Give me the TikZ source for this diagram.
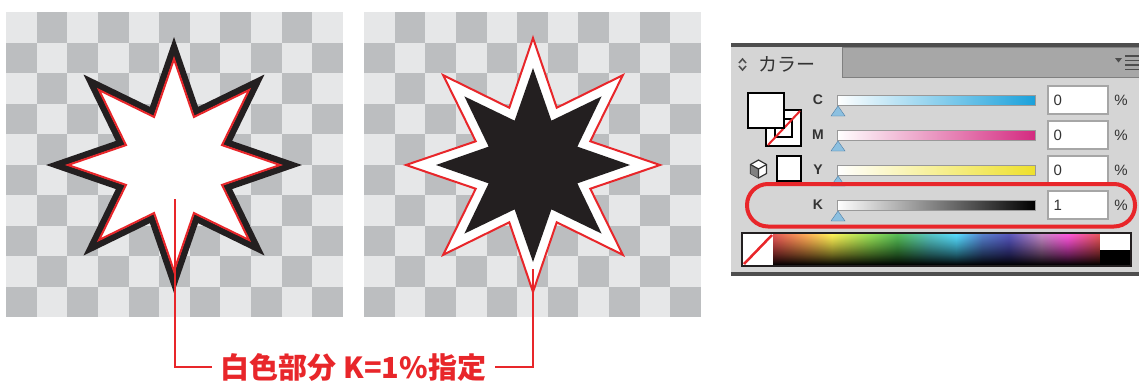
\documentclass[tikz,border=0pt]{standalone}
\usepackage{fontspec}
\setmainfont{Liberation Sans}
\newfontfamily\cjk{Noto Sans CJK JP}
\usetikzlibrary{fadings}

\definecolor{markred}{HTML}{E8262A}
\definecolor{chklight}{HTML}{E6E7E8}
\definecolor{chkdark}{HTML}{BCBEC0}
\definecolor{inkblack}{HTML}{231F20}
\definecolor{panelgray}{HTML}{D5D5D5}
\definecolor{tabgray}{HTML}{A7A7A7}
\definecolor{edgegray}{HTML}{4E4E4E}
\definecolor{cyanbar}{HTML}{1BA1DB}
\definecolor{magbar}{HTML}{D42A80}
\definecolor{yelbar}{HTML}{EEE02C}
\definecolor{knob}{HTML}{8CC0E0}
\definecolor{knobedge}{HTML}{4F7EA5}

\pgfdeclarehorizontalshading{spectrum}{100bp}{color(0bp)=(red);
  color(25bp)=(red!85!black); color(30bp)=(orange); color(34bp)=(yellow!85!orange);
  color(40bp)=(green!55!yellow!80!black); color(44bp)=(green!60!black);
  color(49bp)=(teal!70!cyan); color(53bp)=(cyan!80!blue); color(57bp)=(blue!65!cyan!70!black);
  color(61bp)=(blue!60!black); color(66bp)=(violet!70); color(70bp)=(magenta!80!red);
  color(75bp)=(red!85!black); color(100bp)=(red)}
\tikzfading[name=darkbottom, top color=transparent!100, middle color=transparent!70, bottom color=transparent!0]
\tikzfading[name=lighttop, top color=transparent!65, middle color=transparent!100, bottom color=transparent!100]

\begin{document}
\begin{tikzpicture}[x=1pt,y=-1pt,
    redline/.style={draw=markred, line width=2},
    blackedge/.style={draw=inkblack, line width=6.5, miter limit=10},
    valbox/.style={fill=white, draw=gray!70, line width=1.5},
    uitext/.style={text=black!80, font=\fontsize{14}{16}\selectfont\bfseries},
    lbltext/.style={text=markred, inner sep=9, font=\cjk\bfseries\fontsize{29}{32}\selectfont}]
  \useasboundingbox (0,0) rectangle (1139,381);

  % Checker boards
  \foreach \bx in {6,364} {
    \fill[chklight] (\bx,12) rectangle (\bx+337,317);
    \foreach \i in {0,...,10} {
      \foreach \j in {0,...,9} {
        \ifodd\numexpr\i+\j\relax
          \fill[chkdark] (\bx+\i*30.64,12+\j*30.5) rectangle (\bx+\i*30.64+30.64,12+\j*30.5+30.5);
        \fi
      }
    }
  }

  % Star 1: white with black edge
  \begin{scope}[shift={(174,165)}]
    \draw[blackedge, fill=white] (0:118) \foreach \a in {0,45,...,315} {-- (\a+22.5:58) -- (\a+45:118)} -- cycle;
    \draw[redline, fill=white] (0:106) \foreach \a in {0,45,...,315} {-- (\a+22.5:52) -- (\a+45:106)} -- cycle;
  \end{scope}

  % Star 2: black with white edge
  \begin{scope}[shift={(533,165)}]
    \draw[redline, fill=white] (0:127) \foreach \a in {0,45,...,315} {-- (\a+22.5:62) -- (\a+45:127)} -- cycle;
    \fill[inkblack] (0:97) \foreach \a in {0,45,...,315} {-- (\a+22.5:48) -- (\a+45:97)} -- cycle;
  \end{scope}

  % Label and leaders
  \node[lbltext] (lbl) at (353.5,367) {白色部分 K=1\%指定};
  \coordinate (s1foot) at (175,199);
  \coordinate (s2foot) at (533,269);
  \draw[redline] (s1foot) |- (lbl.west);
  \draw[redline] (s2foot) |- (lbl.east);

  % Colour panel
  \fill[panelgray] (731,44) rectangle (1139,275);
  \fill[edgegray] (731,43) rectangle (1139,47);
  \fill[edgegray] (731,272) rectangle (1139,276);
  \fill[tabgray, draw=gray] (842,47) rectangle (1139,77);
  \draw[black!70, line width=1.5] (739,63) -- (742.5,59) -- (746,63);
  \draw[black!70, line width=1.5] (739,66) -- (742.5,70) -- (746,66);
  \node[text=black!80, font=\cjk\fontsize{19}{21}\selectfont] (tab) at (787,64) {カラー};
  \fill[black!70] (1115,58) -- (1122,58) -- (1118.5,62.5) -- cycle;
  \foreach \ly in {56,60.5,65,69.5}
    \draw[black!70, line width=1.5] (1125,\ly) -- (1139,\ly);

  % Swatches
  \draw[black, line width=2, fill=white] (766,110) rectangle (801,146);
  \draw[black, line width=1.5] (775,119) rectangle (792,137);
  \draw[markred, line width=2] (768,145) -- (800,111);
  \draw[black, line width=2, fill=white] (748,93) rectangle (784,128);
  \draw[black!80, line width=1.2, fill=white] (758.5,160) -- (766.5,164.5) -- (766.5,173.5) -- (758.5,178) -- (750.5,173.5) -- (750.5,164.5) -- cycle;
  \fill[gray] (750.5,164.5) -- (758.5,169) -- (758.5,178) -- (750.5,173.5) -- cycle;
  \draw[black!80, line width=1.2] (750.5,164.5) -- (758.5,169) -- (766.5,164.5) (758.5,169) -- (758.5,178);
  \draw[black, line width=2, fill=white] (777,156) rectangle (801,181);

  % Sliders
  \foreach \yy/\ch/\col/\v in {100/C/cyanbar/0, 135/M/magbar/0, 170/Y/yelbar/0, 205/K/black/1} {
    \node[uitext] (lab\ch) at (818,\yy) {\ch};
    \draw[gray!80, left color=white, right color=\col] (837,\yy-5) rectangle (1035,\yy+5);
    \draw[knobedge, fill=knob] (838,\yy+6) -- (845,\yy+16) -- (831,\yy+16) -- cycle;
    \draw[valbox] (1048,\yy-14) rectangle (1108,\yy+14);
    \node[uitext, font=\fontsize{15}{17}\selectfont, anchor=west] (val\ch) at (1050,\yy) {\v};
    \node[uitext, font=\fontsize{15}{17}\selectfont] (pct\ch) at (1121,\yy) {\%};
  }

  % K row marker
  \draw[markred, line width=4, rounded corners=21] (747,184) rectangle (1135,226.5);

  % Spectrum
  \fill[white] (743,234) rectangle (773,265);
  \draw[markred, line width=2.5] (744,264) -- (772,235);
  \shade[shading=spectrum] (773,234) rectangle (1100,265);
  \fill[black, path fading=darkbottom] (773,234) rectangle (1100,265);
  \fill[white, path fading=lighttop] (773,234) rectangle (1100,265);
  \fill[white] (1100,234) rectangle (1130,250);
  \fill[black] (1100,250) rectangle (1130,265);
  \draw[inkblack, line width=2] (742,233) rectangle (1131,266);
\end{tikzpicture}
\end{document}
